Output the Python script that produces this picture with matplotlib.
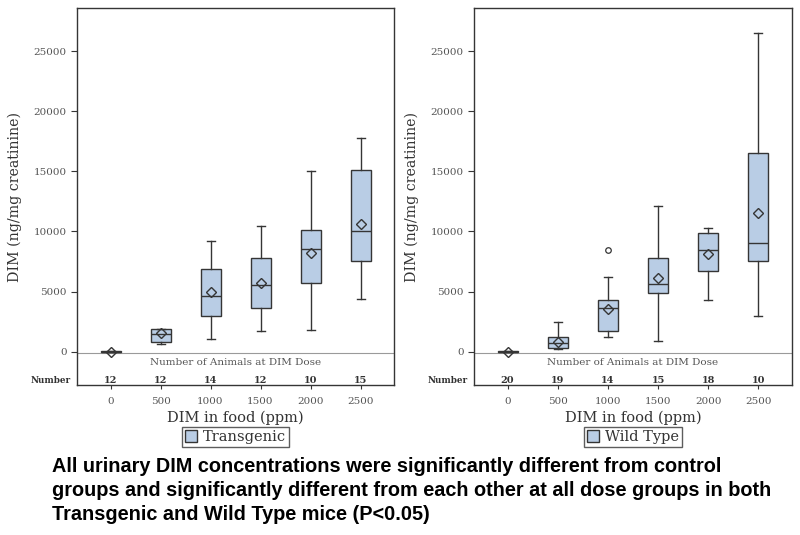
import matplotlib
matplotlib.use("Agg")
import matplotlib.pyplot as plt
from matplotlib.patches import Patch

# ---------------- data ----------------
doses = ["0", "500", "1000", "1500", "2000", "2500"]

tg_n = [12, 12, 14, 12, 10, 15]
tg_whislo = [-40, 610, 1030, 1750, 1800, 4380]
tg_q1 = [-20, 780, 2990, 3600, 5740, 7540]
tg_med = [0, 1470, 4600, 5540, 8540, 10040]
tg_q3 = [30, 1860, 6850, 7820, 10150, 15080]
tg_whishi = [60, 1900, 9180, 10450, 15000, 17800]
tg_mean = [10, 1580, 4930, 5740, 8200, 10590]
tg_fliers = [[], [], [], [], [], []]

wt_n = [20, 19, 14, 15, 18, 10]
wt_whislo = [-40, 190, 1190, 920, 4320, 2970]
wt_q1 = [-20, 280, 1720, 4850, 6680, 7510]
wt_med = [0, 690, 3660, 5650, 8450, 9060]
wt_q3 = [30, 1250, 4270, 7820, 9900, 16550]
wt_whishi = [60, 2440, 6180, 12110, 10310, 26530]
wt_mean = [10, 830, 3550, 6130, 8120, 11560]
wt_fliers = [[], [], [8460], [], [], []]

groups = ["Transgenic", "Wild Type"]
ylabel = "DIM (ng/mg creatinine)"
xlabel = "DIM in food (ppm)"
table_title = "Number of Animals at DIM Dose"
yticks = [0, 5000, 10000, 15000, 20000, 25000]
caption = [
    "All urinary DIM concentrations were significantly different from control",
    "groups and significantly different from each other at all dose groups in both",
    "Transgenic and Wild Type mice (P<0.05)",
]

# ---------------- style ----------------
FILL = "#B9CDE5"
EDGE = "#353535"
TICKC = "#555555"
SERIF = "DejaVu Serif"

fig = plt.figure(figsize=(8, 5.35), dpi=100)

panels = [
    (groups[0], tg_n, tg_whislo, tg_q1, tg_med, tg_q3, tg_whishi, tg_mean, tg_fliers,
     [77 / 800, 1 - 385 / 535, 317 / 800, 377 / 535]),
    (groups[1], wt_n, wt_whislo, wt_q1, wt_med, wt_q3, wt_whishi, wt_mean, wt_fliers,
     [474 / 800, 1 - 385 / 535, 318 / 800, 377 / 535]),
]

ylo, yhi = -2770, 28590
sep_y = -110

for (name, n, wlo, q1, med, q3, whi, mean, fl, rect) in panels:
    ax = fig.add_axes(rect)
    stats = []
    for i in range(len(doses)):
        stats.append(dict(whislo=wlo[i], q1=q1[i], med=med[i], q3=q3[i],
                          whishi=whi[i], mean=mean[i], fliers=fl[i], label=doses[i]))
    pos = list(range(len(doses)))
    ax.bxp(stats, positions=pos, widths=0.4, capwidths=0.16,
           patch_artist=True, showmeans=True, showfliers=True,
           boxprops=dict(facecolor=FILL, edgecolor=EDGE, linewidth=1.0),
           medianprops=dict(color=EDGE, linewidth=1.0),
           whiskerprops=dict(color=EDGE, linewidth=1.0),
           capprops=dict(color=EDGE, linewidth=1.0),
           meanprops=dict(marker="D", markerfacecolor="none",
                          markeredgecolor=EDGE, markersize=5.5, markeredgewidth=1.0),
           flierprops=dict(marker="o", markerfacecolor="none",
                           markeredgecolor=EDGE, markersize=4, markeredgewidth=0.9))
    ax.set_xlim(-0.67, 5.67)
    ax.set_ylim(ylo, yhi)
    ax.set_yticks(yticks)
    ax.set_yticklabels([str(v) for v in yticks], fontsize=7.5, family=SERIF, color=TICKC)
    ax.set_xticks(pos)
    ax.set_xticklabels(doses, fontsize=7.5, family=SERIF, color=TICKC)
    ax.tick_params(axis="both", direction="out", length=4, width=0.8, color=EDGE)
    ax.tick_params(axis="x", length=3, pad=6)
    for s in ax.spines.values():
        s.set_color(EDGE)
        s.set_linewidth(1.0)
    ax.axhline(sep_y, color="#9a9a9a", linewidth=0.8, zorder=0)
    ax.text(2.5, -860, table_title, ha="center", va="center",
            fontsize=7.5, family=SERIF, color=TICKC)
    for i, v in enumerate(n):
        ax.text(i, -2380, str(v), ha="center", va="center",
                fontsize=7, family=SERIF, fontweight="bold", color="#333333")
    ax.text(-0.02, -2380, "Number", transform=ax.get_yaxis_transform(),
            ha="right", va="center", fontsize=6.3, family=SERIF,
            fontweight="bold", color="#333333")
    ax.set_ylabel(ylabel, fontsize=10.2, family=SERIF, color="#333333", labelpad=8)
    ax.set_xlabel(xlabel, fontsize=10.5, family=SERIF, color="#333333", labelpad=3)
    leg = ax.legend(handles=[Patch(facecolor=FILL, edgecolor=EDGE, linewidth=1.0, label=name)],
                    loc="center", bbox_to_anchor=(0.5, -0.138), frameon=True,
                    fancybox=False, handlelength=0.8, handleheight=0.8,
                    handletextpad=0.4, borderpad=0.2, borderaxespad=0,
                    prop=dict(family=SERIF, size=10.5))
    leg.get_frame().set_edgecolor(EDGE)
    leg.get_frame().set_linewidth(1.0)
    for t in leg.get_texts():
        t.set_color("#333333")

for k, line in enumerate(caption):
    fig.text(52 / 800, 1 - (467 + 23.5 * k) / 535, line, ha="left", va="center",
             fontsize=14.3, fontweight="bold", family="Liberation Sans", color="black")

fig.savefig("out.png", dpi=100)
